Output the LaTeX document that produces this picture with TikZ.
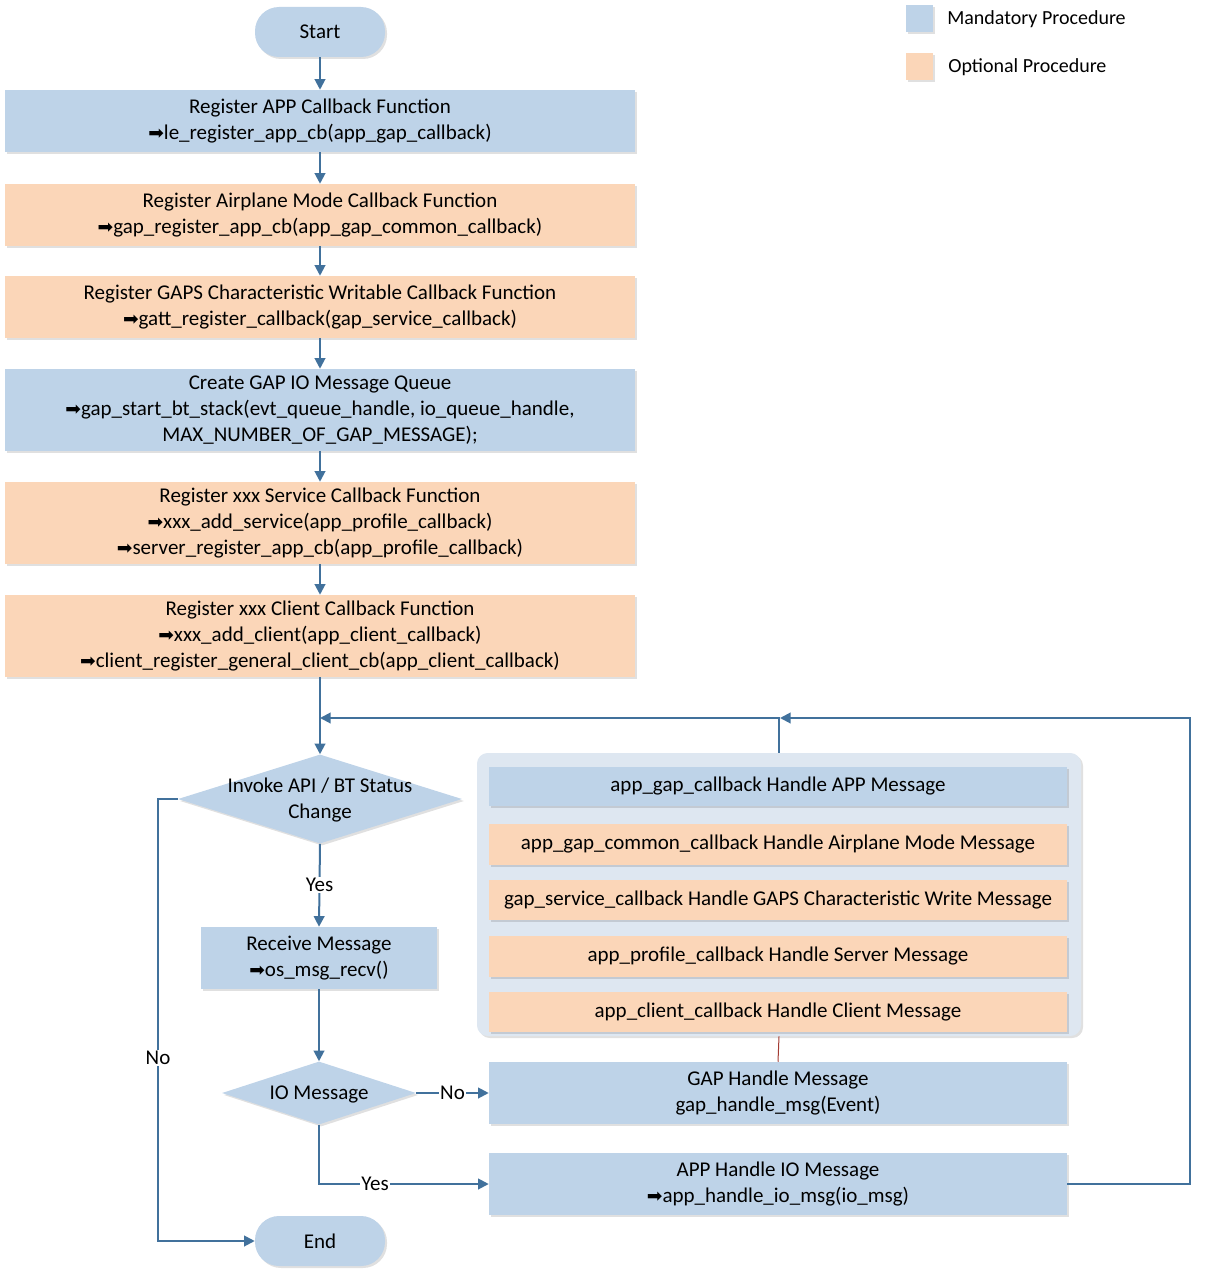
\documentclass[tikz,border=0pt]{standalone}
\usepackage{fontspec}
\setmainfont{Carlito}
\newfontfamily\symfont{DejaVu Sans}
\usetikzlibrary{arrows.meta,shapes.geometric,shadows}
\definecolor{mblue}{HTML}{BED3E8}
\definecolor{oorange}{HTML}{FBD6B8}
\definecolor{grpbg}{HTML}{DEE7F1}
\definecolor{lineblue}{HTML}{41719C}
\definecolor{darkred}{HTML}{A33B32}
\newcommand\myarr{{\symfont\fontsize{14}{14}\selectfont ➡}}
\begin{document}
\begin{tikzpicture}[x=0.75pt,y=-0.75pt,
  font=\fontsize{15.75}{19.5}\selectfont,
  area/.style n args={4}{at={({(#1+#3)/2},{(#2+#4)/2+1})},minimum width={(#3-#1)*0.75pt},minimum height={(#4-#2)*0.75pt}},
  softshadow/.style={drop shadow={shadow xshift=1.5pt,shadow yshift=-1.5pt,opacity=0.12,fill=black}},
  boxbase/.style={draw=none,inner sep=0pt,align=center,softshadow},
  mand/.style={boxbase,fill=mblue},
  opt/.style={boxbase,fill=oorange},
  pill/.style={mand,rounded corners=18pt},
  dia/.style={diamond,draw=none,fill=mblue,inner sep=0pt,softshadow},
  arr/.style={draw=lineblue,line width=1.5pt,-{Triangle[length=8pt,width=8pt]}},
  lbl/.style={fill=white,inner sep=1pt},
  txt/.style={inner sep=0pt,align=center},
  legtxt/.style={inner sep=0pt,anchor=west,font=\fontsize{15}{18}\selectfont}]
\useasboundingbox (0,0) rectangle (1205,1281);

% legend
\node[mand,area={906}{4}{933}{31}] (lg1) {};
\node[legtxt] (lg1t) at (947,19) {Mandatory Procedure};
\node[opt,area={906}{52}{933}{79}] (lg2) {};
\node[legtxt] (lg2t) at (948,67) {Optional Procedure};

% main column
\node[pill,area={255}{6}{385}{56}] (start) {Start};
\node[mand,area={5}{89}{635}{151}] (b1) {Register APP Callback Function\\\myarr le\_register\_app\_cb(app\_gap\_callback)};
\node[opt,area={5}{183}{635}{245}] (b2) {Register Airplane Mode Callback Function\\\myarr gap\_register\_app\_cb(app\_gap\_common\_callback)};
\node[opt,area={5}{275}{635}{337}] (b3) {Register GAPS Characteristic Writable Callback Function\\\myarr gatt\_register\_callback(gap\_service\_callback)};
\node[mand,area={5}{368}{635}{450}] (b4) {Create GAP IO Message Queue\\\myarr gap\_start\_bt\_stack(evt\_queue\_handle, io\_queue\_handle,\\MAX\_NUMBER\_OF\_GAP\_MESSAGE);};
\node[opt,area={5}{481}{635}{563}] (b5) {Register xxx Service Callback Function\\\myarr xxx\_add\_service(app\_profile\_callback)\\\myarr server\_register\_app\_cb(app\_profile\_callback)};
\node[opt,area={5}{594}{635}{676}] (b6) {Register xxx Client Callback Function\\\myarr xxx\_add\_client(app\_client\_callback)\\\myarr client\_register\_general\_client\_cb(app\_client\_callback)};

\node[dia,minimum width=213pt,minimum height=66.75pt] (d1) at (320,799) {};
\node[txt] (d1t) at (320,800) {Invoke API / BT Status\\Change};
\node[mand,area={201}{926}{437}{988}] (recv) {Receive Message\\\myarr os\_msg\_recv()};
\node[dia,minimum width=145.5pt,minimum height=47.25pt] (io) at (319,1093) {};
\node[txt] (iot) at (319,1094) {IO Message};
\node[pill,area={255}{1215}{385}{1265}] (end) {End};

\node[mand,area={489}{1061}{1067}{1123}] (gap) {GAP Handle Message\\gap\_handle\_msg(Event)};
\node[mand,area={489}{1152}{1067}{1214}] (app) {APP Handle IO Message\\\myarr app\_handle\_io\_msg(io\_msg)};

% group
\node[boxbase,fill=grpbg,rounded corners=8pt,area={477}{752}{1081}{1035}] (grp) {};
\node[mand,area={489}{766}{1067}{805}] (g1) {app\_gap\_callback Handle APP Message};
\node[opt,area={489}{823}{1067}{864}] (g2) {app\_gap\_common\_callback Handle Airplane Mode Message};
\node[opt,area={489}{879}{1067}{919}] (g3) {gap\_service\_callback Handle GAPS Characteristic Write Message};
\node[opt,area={489}{935}{1067}{976}] (g4) {app\_profile\_callback Handle Server Message};
\node[opt,area={489}{991}{1067}{1031}] (g5) {app\_client\_callback Handle Client Message};

% coordinates
\coordinate (m) at (320,718);
\coordinate (rc) at (1190,718);
\coordinate (ma) at (780,718);
\coordinate (nc) at (158,799);

% connectors
\draw[arr] (start) -- (b1);
\draw[arr] (b1) -- (b2);
\draw[arr] (b2) -- (b3);
\draw[arr] (b3) -- (b4);
\draw[arr] (b4) -- (b5);
\draw[arr] (b5) -- (b6);
\draw[arr] (b6.south) -- (d1.north);
\draw[arr] (app.east) -- (app.east -| rc) -- (rc) -- (ma);
\draw[arr] (grp.north) |- (m);
\draw[arr] (d1.south) -- node[lbl]{Yes} (recv.north);
\draw[arr] (recv.south) -- (io.north);
\draw[arr] (io.east) -- node[lbl]{No} (gap.west);
\draw[arr] (io.south) |- node[lbl,pos=0.665]{Yes} (app.west);
\draw[arr] (d1.west) -- (nc) |- (end.west);
\node[lbl] (nolbl) at (158,1058) {No};
\draw[darkred,line width=0.75pt] (grp.south) -- (gap.north);
\end{tikzpicture}
\end{document}
